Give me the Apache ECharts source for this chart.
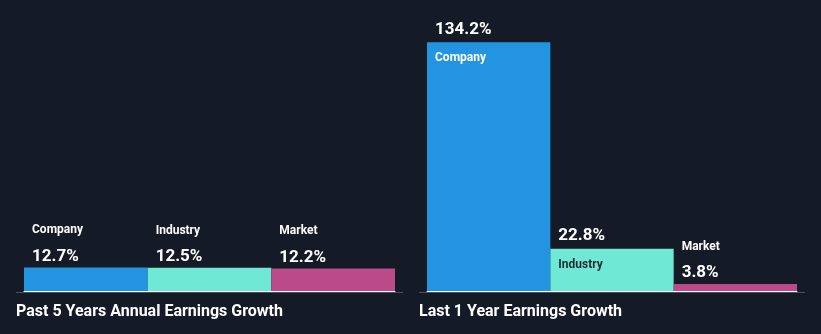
<!DOCTYPE html>
<html>
<head>
<meta charset="utf-8">
<style>
  html, body { margin: 0; padding: 0; background: #151b26; }
  #chart { width: 821px; height: 334px; }
</style>
<script src="https://cdn.jsdelivr.net/npm/echarts@6/dist/echarts.min.js"></script>
</head>
<body>
<div id="chart"></div>
<script>
// Earnings growth: company vs industry vs market
const categories = ['Company', 'Industry', 'Market'];
const past5YearsGrowth = [12.7, 12.5, 12.2];
const last1YearGrowth = [134.2, 22.8, 3.8];
const panelTitles = ['Past 5 Years Annual Earnings Growth', 'Last 1 Year Earnings Growth'];

const barColors = ['#2394df', '#6fe8d6', '#bb4a88'];
const nameColorsInside = ['#ffffff', '#1f2a33', '#ffffff'];
const FONT = 'Roboto, "Open Sans", sans-serif';

// Shared vertical scale for both panels
const baselineFromBottom = 43;
const plotHeight = 278;
const yMax = 150;
const gridTop = 334 - baselineFromBottom - plotHeight;

// Values above this size leave room to print the category name inside the bar
const insideThreshold = 20;

function makeData(values) {
  return values.map((v, i) => {
    const inside = v >= insideThreshold;
    const valText = v.toFixed(1) + '%';
    return {
      value: v,
      itemStyle: { color: barColors[i] },
      label: inside ? {
        show: true,
        position: [8, -26],
        align: 'left',
        verticalAlign: 'top',
        formatter: '{v|' + valText + '}\n{n|' + categories[i] + '}',
        rich: {
          v: { fontFamily: FONT, fontSize: 17, fontWeight: 'bold', color: '#ffffff', lineHeight: 26 },
          n: { fontFamily: FONT, fontSize: 12, fontWeight: 'bold', color: nameColorsInside[i], lineHeight: 32 }
        }
      } : {
        show: true,
        position: [8, -1],
        align: 'left',
        verticalAlign: 'bottom',
        formatter: '{n|' + categories[i] + '}\n{v|' + valText + '}',
        rich: {
          n: { fontFamily: FONT, fontSize: 12, fontWeight: 'bold', color: '#ffffff', lineHeight: 32 },
          v: { fontFamily: FONT, fontSize: 17, fontWeight: 'bold', color: '#ffffff', lineHeight: 20 }
        }
      }
    };
  });
}

const grids = [
  { left: 24, right: 426, top: gridTop, bottom: baselineFromBottom },
  { left: 427, right: 24, top: gridTop, bottom: baselineFromBottom }
];

const xAxes = grids.map((g, k) => ({
  type: 'category',
  gridIndex: k,
  data: categories,
  z: 5,
  axisLine: { show: true, lineStyle: { color: '#ffffff', width: 1 } },
  axisTick: { show: false },
  axisLabel: { show: false }
}));

const yAxes = grids.map((g, k) => ({
  type: 'value',
  gridIndex: k,
  min: 0,
  max: yMax,
  show: false,
  splitLine: { show: false }
}));

const seriesList = [past5YearsGrowth, last1YearGrowth].map((vals, k) => ({
  type: 'bar',
  xAxisIndex: k,
  yAxisIndex: k,
  barCategoryGap: 0,
  barWidth: '100%',
  data: makeData(vals),
  silent: true,
  animation: false
}));

const chart = echarts.init(document.getElementById('chart'), null, { renderer: 'canvas' });
chart.setOption({
  backgroundColor: '#151b26',
  animation: false,
  grid: grids,
  xAxis: xAxes,
  yAxis: yAxes,
  series: seriesList,
  title: [
    { text: panelTitles[0], left: 16, top: 304,
      textStyle: { fontFamily: FONT, fontSize: 16, fontWeight: 'bold', color: '#ffffff' }, padding: 0 },
    { text: panelTitles[1], left: 419, top: 304,
      textStyle: { fontFamily: FONT, fontSize: 16, fontWeight: 'bold', color: '#ffffff' }, padding: 0 }
  ],
  graphic: [
    { type: 'line', shape: { x1: 16, y1: 292.5, x2: 403, y2: 292.5 },
      style: { stroke: '#4a505a', lineWidth: 1 }, z: 1 },
    { type: 'line', shape: { x1: 419, y1: 292.5, x2: 805, y2: 292.5 },
      style: { stroke: '#4a505a', lineWidth: 1 }, z: 1 }
  ]
});
</script>
</body>
</html>
